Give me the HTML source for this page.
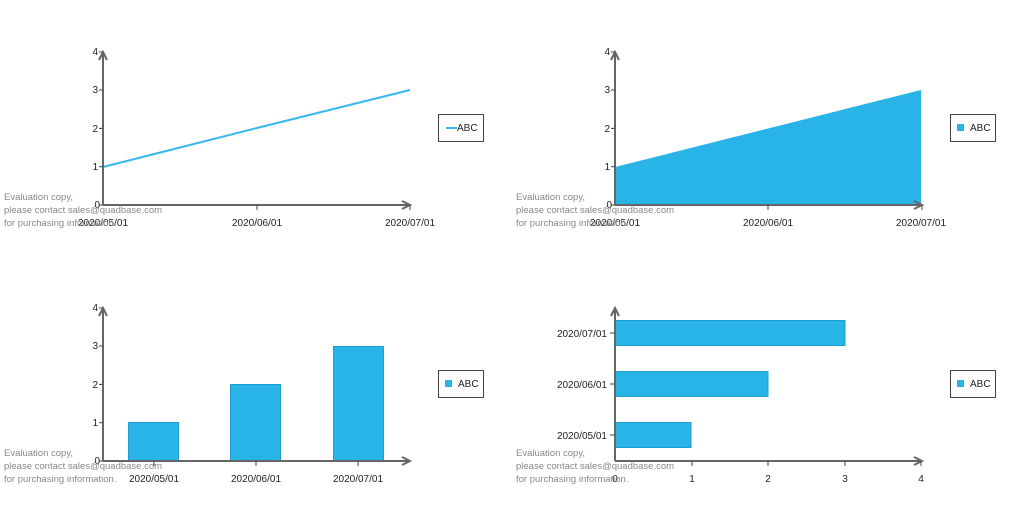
<!DOCTYPE html>
<html><head><meta charset="utf-8"><style>
body{margin:0;background:#fff}
svg{display:block;font-family:"Liberation Sans",sans-serif;font-size:10px}
.ax{stroke:#666;stroke-width:2;fill:none}
.tk{stroke:#444;stroke-width:1}
.lb{fill:#222}
.ev{fill:#888;font-size:9.5px}
.lg{fill:#fff;stroke:#444;stroke-width:1}
.br{fill:#29b4e8;stroke:#1e9fd0;stroke-width:1}
</style></head><body>
<svg width="1024" height="512" viewBox="0 0 1024 512">
<defs>
<g id="yax">
<line class="ax" x1="0" y1="0" x2="0" y2="-153"/>
<path d="M-4,-145 L0,-153 L4,-145" class="ax" stroke-width="1.5"/>
<line class="tk" x1="-4" y1="0" x2="0" y2="0"/><line class="tk" x1="-4" y1="-38.3" x2="0" y2="-38.3"/>
<line class="tk" x1="-4" y1="-76.6" x2="0" y2="-76.6"/><line class="tk" x1="-4" y1="-115" x2="0" y2="-115"/>
<line class="tk" x1="-4" y1="-153" x2="0" y2="-153"/>
<g class="lb" text-anchor="end"><text x="-3" y="3">0</text><text x="-5" y="-35">1</text><text x="-5" y="-73">2</text><text x="-5" y="-112">3</text><text x="-5" y="-150">4</text></g>
</g>
<g id="ev" class="ev"><text x="4" y="0">Evaluation copy,</text><text x="4" y="13">please contact sales@quadbase.com</text><text x="4" y="26">for purchasing information.</text></g>
</defs>

<!-- chart 1 -->
<polyline points="103,167 257,128 410,90" fill="none" stroke="#35b8ec" stroke-width="2"/>
<use href="#yax" x="103" y="205"/>
<line class="ax" x1="103" y1="205" x2="410" y2="205"/>
<path d="M402,201 L410,205 L402,209" class="ax" stroke-width="1.5"/>
<line class="tk" x1="257" y1="205" x2="257" y2="210"/><line class="tk" x1="410" y1="205" x2="410" y2="210"/>
<g class="lb" text-anchor="middle"><text x="103" y="226">2020/05/01</text><text x="257" y="226">2020/06/01</text><text x="410" y="226">2020/07/01</text></g>
<use href="#ev" x="0" y="200"/>
<rect class="lg" x="438.5" y="114.5" width="45" height="27"/>
<line x1="446" y1="128" x2="457" y2="128" stroke="#35b8ec" stroke-width="2"/>
<text class="lb" x="457" y="131">ABC</text>

<!-- chart 2 -->
<polygon points="615,205 615,167 921,90 921,205" fill="#29b4e8"/>
<use href="#yax" x="615" y="205"/>
<line class="ax" x1="615" y1="205" x2="922" y2="205"/>
<path d="M914,201 L922,205 L914,209" class="ax" stroke-width="1.5"/>
<line class="tk" x1="768" y1="205" x2="768" y2="210"/><line class="tk" x1="922" y1="205" x2="922" y2="210"/>
<g class="lb" text-anchor="middle"><text x="615" y="226">2020/05/01</text><text x="768" y="226">2020/06/01</text><text x="921" y="226">2020/07/01</text></g>
<use href="#ev" x="512" y="200"/>
<rect class="lg" x="950.5" y="114.5" width="45" height="27"/>
<rect x="957" y="124" width="7" height="7" fill="#29b4e8"/>
<text class="lb" x="970" y="131">ABC</text>

<!-- chart 3 -->
<rect class="br" x="128.5" y="422.5" width="50" height="38"/>
<rect class="br" x="230.5" y="384.5" width="50" height="76"/>
<rect class="br" x="333.5" y="346.5" width="50" height="114"/>
<use href="#yax" x="103" y="461"/>
<line class="ax" x1="103" y1="461" x2="410" y2="461"/>
<path d="M402,457 L410,461 L402,465" class="ax" stroke-width="1.5"/>
<line class="tk" x1="154" y1="461" x2="154" y2="466"/><line class="tk" x1="256" y1="461" x2="256" y2="466"/><line class="tk" x1="358" y1="461" x2="358" y2="466"/>
<g class="lb" text-anchor="middle"><text x="154" y="482">2020/05/01</text><text x="256" y="482">2020/06/01</text><text x="358" y="482">2020/07/01</text></g>
<use href="#ev" x="0" y="456"/>
<rect class="lg" x="438.5" y="370.5" width="45" height="27"/>
<rect x="445" y="380" width="7" height="7" fill="#29b4e8"/>
<text class="lb" x="458" y="387">ABC</text>

<!-- chart 4 -->
<rect class="br" x="615" y="320.5" width="230" height="25"/>
<rect class="br" x="615" y="371.5" width="153" height="25"/>
<rect class="br" x="615" y="422.5" width="76" height="25"/>
<line class="ax" x1="615" y1="461" x2="615" y2="308"/>
<path d="M611,316 L615,308 L619,316" class="ax" stroke-width="1.5"/>
<line class="ax" x1="615" y1="461" x2="922" y2="461"/>
<path d="M914,457 L922,461 L914,465" class="ax" stroke-width="1.5"/>
<g class="tk"><line x1="610" y1="333" x2="615" y2="333"/><line x1="610" y1="384" x2="615" y2="384"/><line x1="610" y1="435" x2="615" y2="435"/>
<line x1="692" y1="461" x2="692" y2="466"/><line x1="768" y1="461" x2="768" y2="466"/><line x1="845" y1="461" x2="845" y2="466"/><line x1="921" y1="461" x2="921" y2="466"/></g>
<g class="lb" text-anchor="end"><text x="607" y="337">2020/07/01</text><text x="607" y="388">2020/06/01</text><text x="607" y="439">2020/05/01</text></g>
<g class="lb" text-anchor="middle"><text x="615" y="482">0</text><text x="692" y="482">1</text><text x="768" y="482">2</text><text x="845" y="482">3</text><text x="921" y="482">4</text></g>
<use href="#ev" x="512" y="456"/>
<rect class="lg" x="950.5" y="370.5" width="45" height="27"/>
<rect x="957" y="380" width="7" height="7" fill="#29b4e8"/>
<text class="lb" x="970" y="387">ABC</text>
</svg>
</body></html>
